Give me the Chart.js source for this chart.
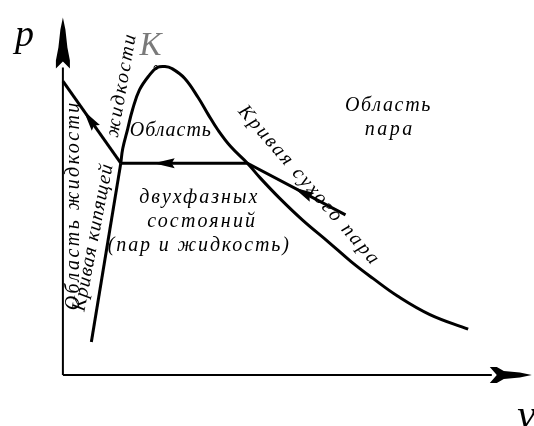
<!DOCTYPE html>
<html>
<head>
<meta charset="utf-8">
<script src="https://cdn.jsdelivr.net/npm/chart.js@4/dist/chart.umd.min.js"></script>
<style>
  html, body { margin: 0; padding: 0; background: #fff; overflow: hidden; }
  #wrap { width: 534px; height: 426px; }
</style>
</head>
<body>
<div id="wrap"><canvas id="c" width="534" height="426"></canvas></div>
<script>
// ---- data (v, p in arbitrary units) ----
const liquidLineV = [0, 1.255];
const liquidLineP = [8.6, 6.2];
const boilingV = [0.617, 1.255];
const boilingP = [0.971, 6.2];
const domeV = [1.255, 1.298, 1.404, 1.511, 1.660, 1.872, 2.043, 2.213, 2.362, 2.638, 2.936, 3.149, 3.362, 3.638, 4.0, 4.277, 4.702, 5.191, 5.766, 6.255, 6.723, 7.255, 7.957, 8.787];
const domeP = [6.2, 6.629, 7.2, 7.771, 8.343, 8.771, 9.0, 9.029, 8.971, 8.686, 8.114, 7.629, 7.171, 6.686, 6.2, 5.771, 5.171, 4.543, 3.886, 3.314, 2.829, 2.314, 1.771, 1.343];
const isothermV = [1.255, 4.0, 6.128];
const isothermP = [6.2, 6.2, 4.686];
const criticalV = [2.02];
const criticalP = [9.0];
const axisYV = [0, 0];
const axisYP = [0, 9.0];
const axisXV = [0, 9.3];
const axisXP = [0, 0];

const labelTexts = ['Область жидкости', 'Кривая кипящей', 'жидкости', 'Область', 'Кривая сухого пара', 'Область', 'пара', 'двухфазных', 'состояний', '(пар и жидкость)', 'K', 'p', 'v'];

function pts(xs, ys) { return xs.map((x, i) => ({ x: x, y: ys[i] })); }

// ---- layout / styling (not data) ----
// w = target drawn width in px (letter spacing is adjusted to reach it)
const labelLayout = [
  { v: 0.234, p: 4.97, rot: -90, size: 20, w: 210 },
  { v: 0.66, p: 4.03, rot: -79, size: 20, w: 150 },
  { v: 1.277, p: 8.49, rot: -80, size: 20, w: 106 },
  { v: 2.34, p: 7.14, rot: 0, size: 20, w: 82 },
  { v: 5.34, p: 5.54, rot: 49, size: 20, w: 206 },
  { v: 7.06, p: 7.886, rot: 0, size: 20, w: 87 },
  { v: 7.085, p: 7.17, rot: 0, size: 20, w: 50 },
  { v: 2.957, p: 5.2, rot: 0, size: 20, w: 120 },
  { v: 3.02, p: 4.486, rot: 0, size: 20, w: 110 },
  { v: 2.957, p: 3.771, rot: 0, size: 20, w: 183 },
  { v: 1.90, p: 9.63, rot: 0, size: 33, color: '#7a7a7a' },
  { v: -0.83, p: 9.914, rot: 0, size: 38 },
  { v: 9.85, p: -1.22, rot: 0, size: 42, align: 'left' }
];
// arrows on process lines: dataset index, segment start index, fraction of segment where tip sits (pointing back to segment start)
const arrowMarks = [
  { ds: 0, seg: 0, t: 0.36 },
  { ds: 3, seg: 0, t: 0.26 },
  { ds: 3, seg: 1, t: 0.47 }
];

const overlay = {
  id: 'overlay',
  afterDatasetsDraw(chart) {
    const ctx = chart.ctx;
    const xs = chart.scales.x, ys = chart.scales.y;
    const px = v => xs.getPixelForValue(v);
    const py = p => ys.getPixelForValue(p);

    ctx.save();
    ctx.fillStyle = '#000';
    // y axis arrowhead (base at end of axis line)
    const yx = px(0), yb = py(axisYP[1]);
    ctx.beginPath();
    ctx.moveTo(yx, yb - 50);
    ctx.lineTo(yx + 2.5, yb - 38);
    ctx.lineTo(yx + 4.5, yb - 20);
    ctx.lineTo(yx + 7, yb - 7);
    ctx.lineTo(yx + 7, yb + 1);
    ctx.lineTo(yx, yb - 6);
    ctx.lineTo(yx - 7, yb + 1);
    ctx.lineTo(yx - 7, yb - 7);
    ctx.lineTo(yx - 4.5, yb - 20);
    ctx.lineTo(yx - 2.5, yb - 38);
    ctx.closePath();
    ctx.fill();
    // x axis arrowhead
    const xy = py(0), xb = px(axisXV[1]);
    ctx.beginPath();
    ctx.moveTo(xb + 40, xy);
    ctx.lineTo(xb + 28, xy - 2.5);
    ctx.lineTo(xb + 12, xy - 4);
    ctx.lineTo(xb + 5, xy - 8);
    ctx.lineTo(xb - 2, xy - 8);
    ctx.lineTo(xb + 5, xy);
    ctx.lineTo(xb - 2, xy + 8);
    ctx.lineTo(xb + 5, xy + 8);
    ctx.lineTo(xb + 12, xy + 4);
    ctx.lineTo(xb + 28, xy + 2.5);
    ctx.closePath();
    ctx.fill();

    // process arrows
    arrowMarks.forEach(a => {
      const d = chart.data.datasets[a.ds].data;
      const A = d[a.seg], B = d[a.seg + 1];
      const ax = px(A.x), ay = py(A.y), bx = px(B.x), by = py(B.y);
      const tx = ax + (bx - ax) * a.t, ty = ay + (by - ay) * a.t;
      const ang = Math.atan2(ay - by, ax - bx);
      ctx.save();
      ctx.translate(tx, ty);
      ctx.rotate(ang);
      ctx.beginPath();
      ctx.moveTo(0, 0);
      ctx.lineTo(-21, -5);
      ctx.lineTo(-18, 0);
      ctx.lineTo(-21, 5);
      ctx.closePath();
      ctx.fill();
      ctx.restore();
    });

    // labels
    labelTexts.forEach((txt, i) => {
      const L = labelLayout[i];
      ctx.save();
      ctx.translate(px(L.v), py(L.p));
      ctx.rotate(L.rot * Math.PI / 180);
      ctx.font = 'italic ' + L.size + 'px "Liberation Serif", serif';
      ctx.letterSpacing = '0px';
      if (L.w) {
        const base = ctx.measureText(txt).width;
        const n = [...txt].length;
        ctx.letterSpacing = Math.max(0, (L.w - base) / n).toFixed(2) + 'px';
      }
      ctx.fillStyle = L.color || '#000';
      ctx.textAlign = L.align || 'center';
      ctx.textBaseline = 'middle';
      ctx.fillText(txt, 0, 0);
      ctx.restore();
    });
    ctx.restore();
  }
};

const lineDs = (data, extra) => Object.assign({
  data: data, showLine: true, borderColor: '#000', borderWidth: 3,
  pointRadius: 0, fill: false, tension: 0
}, extra || {});

new Chart(document.getElementById('c'), {
  type: 'scatter',
  data: {
    datasets: [
      lineDs(pts(liquidLineV, liquidLineP)),
      lineDs(pts(boilingV, boilingP)),
      lineDs(pts(domeV, domeP), { tension: 0.4 }),
      lineDs(pts(isothermV, isothermP)),
      lineDs(pts(axisYV, axisYP), { borderWidth: 2 }),
      lineDs(pts(axisXV, axisXP), { borderWidth: 2 }),
      { data: pts(criticalV, criticalP), showLine: false, pointRadius: 2, pointBackgroundColor: '#fff', pointBorderColor: '#000', pointBorderWidth: 1 }
    ]
  },
  options: {
    responsive: false,
    animation: false,
    events: [],
    layout: { padding: 0 },
    plugins: { legend: { display: false }, tooltip: { enabled: false } },
    scales: {
      x: { type: 'linear', display: false, min: -59 / 47, max: 475 / 47 },
      y: { type: 'linear', display: false, min: -47 / 35, max: 379 / 35 }
    }
  },
  plugins: [overlay]
});
</script>
</body>
</html>
